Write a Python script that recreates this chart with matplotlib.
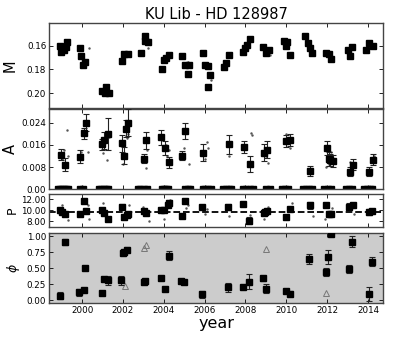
import numpy as np
import matplotlib
matplotlib.use('Agg')
import matplotlib.pyplot as plt
from matplotlib.ticker import FixedLocator, FixedFormatter

# Magnitude M (axis inverted)
m_year = [1998.9, 1998.99, 1999.12, 1999.2, 1999.27, 1999.9, 1999.97, 2000.05, 2000.16,
          2000.98, 2001.1, 2001.19, 2001.3, 2001.96, 2002.07, 2002.23, 2002.9, 2003.06,
          2003.1, 2003.21, 2003.91, 2004.02, 2004.13, 2004.24, 2004.9, 2005.06, 2005.17,
          2005.25, 2005.9, 2006.03, 2006.15, 2006.25, 2006.17, 2006.93, 2007.05, 2007.18,
          2007.88, 2007.99, 2008.08, 2008.24, 2008.86, 2009.02, 2009.15, 2009.87, 2010.0,
          2010.04, 2010.2, 2010.9, 2011.07, 2011.15, 2011.27, 2011.92, 2012.08, 2012.21,
          2013.0, 2013.1, 2013.22, 2013.88, 2014.07, 2014.24]
m_val = [0.160, 0.165, 0.164, 0.161, 0.157, 0.162, 0.169, 0.176, 0.174,
         0.198, 0.200, 0.195, 0.200, 0.173, 0.167, 0.167, 0.166, 0.156,
         0.152, 0.157, 0.180, 0.172, 0.170, 0.168, 0.169, 0.176, 0.184,
         0.176, 0.166, 0.176, 0.177, 0.185, 0.195, 0.178, 0.175, 0.168,
         0.165, 0.162, 0.159, 0.154, 0.161, 0.166, 0.164, 0.156, 0.160,
         0.157, 0.168, 0.152, 0.158, 0.162, 0.166, 0.1665, 0.167, 0.171,
         0.164, 0.169, 0.161, 0.164, 0.158, 0.160]
m_dot_year = [1999.3, 1999.98, 2000.35, 2001.25, 2003.25, 2004.2, 2005.2, 2006.3, 2007.05, 2009.2]
m_dot_val = [0.156, 0.167, 0.162, 0.197, 0.162, 0.167, 0.174, 0.189, 0.179, 0.168]

# Amplitude A
a_year = [1998.97, 1999.18, 1999.88, 2000.08, 2000.2, 2000.98, 2001.08, 2001.25, 2001.96,
          2002.07, 2002.15, 2002.23, 2003.05, 2003.13, 2003.88, 2004.08, 2004.27, 2004.9,
          2005.06, 2005.9, 2007.18, 2007.91, 2008.2, 2008.92, 2009.05, 2010.0, 2010.2,
          2011.18, 2011.99, 2012.07, 2012.15, 2012.28, 2013.1, 2013.26, 2014.07, 2014.27]
a_val = [0.0124, 0.0089, 0.0118, 0.0203, 0.0241, 0.0163, 0.0177, 0.0200, 0.0166,
         0.0121, 0.0219, 0.0241, 0.0110, 0.0177, 0.0188, 0.0150, 0.0097, 0.0121,
         0.0211, 0.0132, 0.0163, 0.0152, 0.0091, 0.0132, 0.0143, 0.0175, 0.0177,
         0.0066, 0.0149, 0.0110, 0.0104, 0.0101, 0.0063, 0.0088, 0.0063, 0.0106]
a_err = [0.0020, 0.0025, 0.0025, 0.0020, 0.0030, 0.0020, 0.0030, 0.0058, 0.0030,
         0.0030, 0.0030, 0.0050, 0.0017, 0.0030, 0.0027, 0.0025, 0.0020, 0.0017,
         0.0030, 0.0030, 0.0035, 0.0022, 0.0030, 0.0030, 0.0030, 0.0022, 0.0022,
         0.0017, 0.0025, 0.0025, 0.0022, 0.0022, 0.0017, 0.0020, 0.0017, 0.0020]
a_zero_year = [1998.8, 1998.9, 1999.0, 1999.1, 1999.2, 1999.3, 1999.9, 2000.05,
               2000.85, 2000.95, 2001.05, 2001.15, 2001.25, 2002.75, 2002.85, 2003.05,
               2003.2, 2003.9, 2004.0, 2004.1, 2004.2, 2005.05, 2005.2, 2005.3, 2005.9,
               2006.0, 2006.15, 2006.3, 2006.9, 2007.05, 2007.2, 2007.3, 2007.9, 2008.05,
               2008.2, 2008.35, 2009.0, 2009.2, 2009.8, 2009.95, 2010.1, 2010.8, 2010.95,
               2011.1, 2011.25, 2011.85, 2012.05, 2012.2, 2012.9, 2013.05, 2013.2,
               2013.8, 2013.95, 2014.1, 2014.2]
a_dot_year = [1999.0, 1999.1, 1999.25, 1999.3, 1999.95, 2000.3, 2001.0, 2001.2, 2001.3,
              2002.0, 2002.2, 2002.25, 2003.15, 2003.2, 2004.1, 2004.15, 2004.25, 2005.0,
              2005.25, 2006.0, 2006.1, 2006.15, 2007.2, 2008.25, 2008.3, 2009.0, 2009.1,
              2010.0, 2010.2, 2011.95, 2012.0, 2012.1, 2012.2, 2013.1, 2014.3]
a_dot_val = [0.0110, 0.0140, 0.0213, 0.0120, 0.0135, 0.0135, 0.0130, 0.0105, 0.0190,
             0.0090, 0.0185, 0.0200, 0.0075, 0.0140, 0.0160, 0.0120, 0.0140, 0.0150,
             0.0090, 0.0110, 0.0170, 0.0150, 0.0120, 0.0205, 0.0195, 0.0120, 0.0095,
             0.0200, 0.0150, 0.0080, 0.0120, 0.0090, 0.0135, 0.0100, 0.0120]

# Period P
p_year = [1998.94, 1999.0, 1999.18, 1999.88, 2000.08, 2000.2, 2000.98, 2001.08, 2001.27,
          2001.96, 2002.07, 2002.2, 2002.26, 2003.03, 2003.13, 2003.87, 2004.0, 2004.2,
          2004.26, 2004.9, 2005.02, 2005.87, 2007.15, 2007.88, 2008.15, 2008.89, 2008.97,
          2009.05, 2009.98, 2010.2, 2011.18, 2011.96, 2012.07, 2012.19, 2013.05, 2013.26,
          2014.07, 2014.19]
p_val = [10.0, 9.7, 9.4, 9.4, 11.8, 9.9, 10.0, 9.6, 8.4,
         10.7, 8.7, 9.2, 9.3, 9.9, 9.6, 10.0, 10.1, 11.0,
         11.4, 8.9, 11.8, 10.6, 10.6, 11.1, 8.1, 9.5, 9.7,
         9.8, 8.8, 10.2, 10.9, 10.9, 9.4, 9.3, 10.7, 10.9,
         9.7, 9.9]
p_err = [0.5, 0.3, 0.3, 0.3, 0.2, 0.3, 0.3, 0.4, 0.4,
         0.4, 0.3, 0.3, 0.3, 0.3, 0.3, 0.3, 0.3, 0.3,
         0.5, 0.2, 0.2, 0.3, 0.5, 0.2, 0.6, 0.3, 0.3,
         0.3, 0.2, 0.3, 0.7, 0.3, 0.5, 0.3, 0.6, 0.5,
         0.5, 0.3]
p_mean = 9.7
p_dot_year = [1999.0, 1999.3, 2000.3, 2000.35, 2001.0, 2001.3, 2002.0, 2002.3, 2003.0,
              2003.3, 2004.0, 2004.3, 2005.1, 2005.2, 2006.0, 2006.1, 2007.2, 2008.2,
              2008.9, 2009.1, 2010.3, 2011.3, 2011.9, 2012.25, 2013.3, 2014.0]
p_dot_val = [10.9, 8.3, 11.0, 8.5, 11.4, 8.5, 8.4, 10.9, 10.6,
             8.0, 8.5, 11.9, 10.5, 11.0, 9.4, 10.2, 9.0, 9.2,
             8.5, 10.6, 11.4, 9.0, 8.5, 10.5, 9.3, 9.5]

# Phase phi
phi_year = [1998.94, 1999.15, 1999.87, 2000.08, 2000.16, 2000.98, 2001.08, 2001.25, 2001.92,
            2001.99, 2002.07, 2002.2, 2003.03, 2003.1, 2003.87, 2004.04, 2004.24, 2004.86,
            2004.99, 2005.87, 2007.15, 2007.86, 2008.15, 2008.86, 2009.02, 2009.97, 2010.16,
            2011.13, 2011.96, 2012.04, 2012.2, 2013.05, 2013.22, 2014.06, 2014.22]
phi_val = [0.07, 0.91, 0.12, 0.16, 0.51, 0.11, 0.33, 0.31, 0.31,
           0.74, 0.76, 0.79, 0.29, 0.30, 0.34, 0.17, 0.70, 0.30,
           0.29, 0.09, 0.20, 0.20, 0.29, 0.34, 0.18, 0.15, 0.10,
           0.65, 0.44, 0.67, 1.03, 0.49, 0.92, 0.10, 0.60]
phi_err = [0.05, 0.05, 0.06, 0.03, 0.02, 0.02, 0.03, 0.07, 0.07,
           0.02, 0.03, 0.04, 0.02, 0.02, 0.02, 0.03, 0.07, 0.02,
           0.03, 0.05, 0.07, 0.02, 0.12, 0.04, 0.07, 0.02, 0.04,
           0.08, 0.06, 0.11, 0.03, 0.06, 0.08, 0.11, 0.07]
tri_year = [2002.12, 2003.02, 2003.13, 2009.02, 2011.96]
tri_val = [0.22, 0.82, 0.87, 0.80, 0.11]

x_ticks = [2000, 2002, 2004, 2006, 2008, 2010, 2012, 2014]

plt.rcParams['xtick.direction'] = 'in'
plt.rcParams['ytick.direction'] = 'in'
plt.rcParams['font.family'] = 'DejaVu Sans'

fig = plt.figure(figsize=(4.03, 3.37), dpi=100)
L, W = 0.1216, 0.829
ax1 = fig.add_axes([L, 0.6795, W, 0.252])
ax2 = fig.add_axes([L, 0.439, W, 0.237])
ax3 = fig.add_axes([L, 0.3264, W, 0.098])
ax4 = fig.add_axes([L, 0.1009, W, 0.208])
axes = [ax1, ax2, ax3, ax4]

eb = dict(fmt='s', color='black', ms=4.5, ecolor='#222222', elinewidth=0.8,
          capsize=2, capthick=0.8, zorder=3)

# M
ax1.plot(m_dot_year, m_dot_val, '.', color='#555555', ms=1.5)
ax1.plot(m_year, m_val, 's', color='black', ms=4.5)
ax1.set_ylim(0.2127, 0.1408)
ax1.yaxis.set_major_locator(FixedLocator([0.16, 0.18, 0.20]))
ax1.yaxis.set_major_formatter(FixedFormatter(['0.16', '0.18', '0.20']))
ax1.set_ylabel('M', fontsize=10.5)
ax1.yaxis.set_label_coords(-0.094, 0.5)
ax1.set_title('KU Lib - HD 128987', fontsize=10.5, pad=3)

# A
ax2.plot(a_dot_year, a_dot_val, '.', color='#555555', ms=1.5)
ax2.plot(a_zero_year, np.zeros(len(a_zero_year)), 's', color='black', ms=4, clip_on=True)
ax2.errorbar(a_year, a_val, yerr=a_err, **eb)
ax2.set_ylim(0, 0.029)
ax2.yaxis.set_major_locator(FixedLocator([0.0, 0.008, 0.016, 0.024]))
ax2.yaxis.set_major_formatter(FixedFormatter(['0.00', '0.008', '0.016', '0.024']))
ax2.set_ylabel('A', fontsize=10.5)
ax2.yaxis.set_label_coords(-0.094, 0.5)

# P
ax3.plot(p_dot_year, p_dot_val, '.', color='#555555', ms=1.5)
ax3.axhline(p_mean, color='black', ls='--', lw=1.3, zorder=2)
ax3.errorbar(p_year, p_val, yerr=p_err, **eb)
ax3.set_ylim(6.96, 13.0)
ax3.yaxis.set_major_locator(FixedLocator([8, 10, 12]))
ax3.yaxis.set_major_formatter(FixedFormatter(['8.00', '10.00', '12.00']))
ax3.set_ylabel('P', fontsize=9)
ax3.yaxis.set_label_coords(-0.092, 0.5)

# phi
ax4.set_facecolor('#cccccc')
ax4.plot(tri_year, tri_val, '^', mfc='none', mec='#777777', ms=4, mew=0.7)
ax4.errorbar(phi_year, phi_val, yerr=phi_err, **eb)
ax4.set_ylim(-0.045, 1.055)
ax4.yaxis.set_major_locator(FixedLocator([0, 0.25, 0.5, 0.75, 1.0]))
ax4.yaxis.set_major_formatter(FixedFormatter(['0.00', '0.25', '0.50', '0.75', '1.00']))
ax4.set_ylabel(r'$\phi$', fontsize=9)
ax4.yaxis.set_label_coords(-0.08, 0.5)
ax4.set_xlabel('year', fontsize=11.5, labelpad=1)

for ax in axes:
    ax.set_xlim(1998.38, 2014.74)
    ax.set_xticks(x_ticks)
    ax.tick_params(top=True, right=True, labelsize=6.3, length=3, width=0.6, pad=2)
    for s in ax.spines.values():
        s.set_color('#444444')
        s.set_linewidth(1.0)
    if ax is not ax4:
        ax.set_xticklabels([])

fig.savefig('out.png', dpi=100)
